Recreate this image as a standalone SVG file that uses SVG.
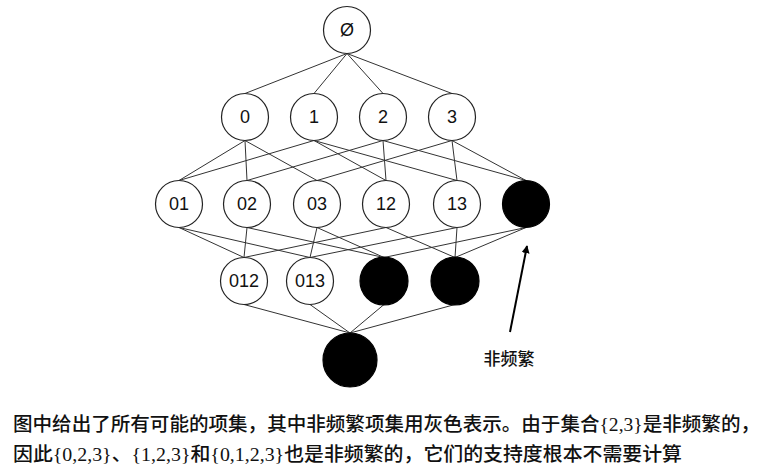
<svg xmlns="http://www.w3.org/2000/svg" width="774" height="465" viewBox="0 0 774 465">
<style>
.n{fill:#fff;stroke:#222;stroke-width:1.2}
.b{fill:#000;stroke:#000;stroke-width:1.2}
.t{font-family:"Liberation Sans",Arial,sans-serif;font-size:18px;fill:#111;text-anchor:middle;dominant-baseline:central}
.e{stroke:#333;stroke-width:1;fill:none}
.cap{font-family:"Liberation Serif","Noto Sans CJK SC",serif;font-size:19px;font-weight:500;fill:#111}
</style>
<defs>
<marker id="ah" viewBox="0 0 10 10" refX="9" refY="5" markerWidth="8" markerHeight="8" markerUnits="userSpaceOnUse" orient="auto">
<path d="M0,0 L10,5 L0,10 z" fill="#000"/>
</marker>
</defs>
<rect width="774" height="465" fill="#fff"/>
<g id="connectors">
<line class="e" x1="347" y1="53.5" x2="245" y2="93.5"/>
<line class="e" x1="347" y1="53.5" x2="314" y2="93.5"/>
<line class="e" x1="347" y1="53.5" x2="383" y2="93.5"/>
<line class="e" x1="347" y1="53.5" x2="452" y2="93.5"/>
<line class="e" x1="245" y1="140.5" x2="179" y2="180.5"/>
<line class="e" x1="245" y1="140.5" x2="247" y2="180.5"/>
<line class="e" x1="245" y1="140.5" x2="317" y2="180.5"/>
<line class="e" x1="314" y1="140.5" x2="179" y2="180.5"/>
<line class="e" x1="314" y1="140.5" x2="386" y2="180.5"/>
<line class="e" x1="314" y1="140.5" x2="457" y2="180.5"/>
<line class="e" x1="383" y1="140.5" x2="247" y2="180.5"/>
<line class="e" x1="383" y1="140.5" x2="386" y2="180.5"/>
<line class="e" x1="383" y1="140.5" x2="526" y2="180.5"/>
<line class="e" x1="452" y1="140.5" x2="317" y2="180.5"/>
<line class="e" x1="452" y1="140.5" x2="457" y2="180.5"/>
<line class="e" x1="452" y1="140.5" x2="526" y2="180.5"/>
<line class="e" x1="179" y1="227.5" x2="244" y2="257.5"/>
<line class="e" x1="179" y1="227.5" x2="310" y2="257.5"/>
<line class="e" x1="247" y1="227.5" x2="244" y2="257.5"/>
<line class="e" x1="247" y1="227.5" x2="384" y2="257.5"/>
<line class="e" x1="317" y1="227.5" x2="310" y2="257.5"/>
<line class="e" x1="317" y1="227.5" x2="384" y2="257.5"/>
<line class="e" x1="386" y1="227.5" x2="244" y2="257.5"/>
<line class="e" x1="386" y1="227.5" x2="455" y2="257.5"/>
<line class="e" x1="457" y1="227.5" x2="310" y2="257.5"/>
<line class="e" x1="457" y1="227.5" x2="455" y2="257.5"/>
<line class="e" x1="526" y1="227.5" x2="384" y2="257.5"/>
<line class="e" x1="526" y1="227.5" x2="455" y2="257.5"/>
<line class="e" x1="244" y1="304.5" x2="350" y2="333"/>
<line class="e" x1="310" y1="304.5" x2="350" y2="333"/>
<line class="e" x1="384" y1="304.5" x2="350" y2="333"/>
<line class="e" x1="455" y1="304.5" x2="350" y2="333"/>
<line x1="510" y1="332" x2="527" y2="246" stroke="#000" stroke-width="2" marker-end="url(#ah)"/>
</g>
<g id="n_empty"><circle class="n" cx="347" cy="30" r="23.5"/><text class="t" x="347" y="30">Ø</text></g>
<g id="n_0"><circle class="n" cx="245" cy="117" r="23.5"/><text class="t" x="245" y="117">0</text></g>
<g id="n_1"><circle class="n" cx="314" cy="117" r="23.5"/><text class="t" x="314" y="117">1</text></g>
<g id="n_2"><circle class="n" cx="383" cy="117" r="23.5"/><text class="t" x="383" y="117">2</text></g>
<g id="n_3"><circle class="n" cx="452" cy="117" r="23.5"/><text class="t" x="452" y="117">3</text></g>
<g id="n_01"><circle class="n" cx="179" cy="204" r="23.5"/><text class="t" x="179" y="204">01</text></g>
<g id="n_02"><circle class="n" cx="247" cy="204" r="23.5"/><text class="t" x="247" y="204">02</text></g>
<g id="n_03"><circle class="n" cx="317" cy="204" r="23.5"/><text class="t" x="317" y="204">03</text></g>
<g id="n_12"><circle class="n" cx="386" cy="204" r="23.5"/><text class="t" x="386" y="204">12</text></g>
<g id="n_13"><circle class="n" cx="457" cy="204" r="23.5"/><text class="t" x="457" y="204">13</text></g>
<g id="n_23"><circle class="b" cx="526" cy="204" r="23.5"/></g>
<g id="n_012"><circle class="n" cx="244" cy="281" r="23.5"/><text class="t" x="244" y="281">012</text></g>
<g id="n_013"><circle class="n" cx="310" cy="281" r="23.5"/><text class="t" x="310" y="281">013</text></g>
<g id="n_023"><circle class="b" cx="384" cy="281" r="24"/></g>
<g id="n_123"><circle class="b" cx="455" cy="281" r="24"/></g>
<g id="n_0123"><circle class="b" cx="350" cy="360" r="27"/></g>
<g id="label_infrequent"><text x="509" y="365" text-anchor="middle" font-family="'Noto Sans CJK SC',sans-serif" font-size="17" font-weight="500" fill="#111">非频繁</text></g>
<g id="caption">
<text class="cap" x="13" y="431" textLength="747" lengthAdjust="spacingAndGlyphs">图中给出了所有可能的项集，其中非频繁项集用灰色表示。由于集合{2,3}是非频繁的，</text>
<text class="cap" x="13" y="461" textLength="669" lengthAdjust="spacingAndGlyphs">因此{0,2,3}、{1,2,3}和{0,1,2,3}也是非频繁的，它们的支持度根本不需要计算</text>
</g>
</svg>
